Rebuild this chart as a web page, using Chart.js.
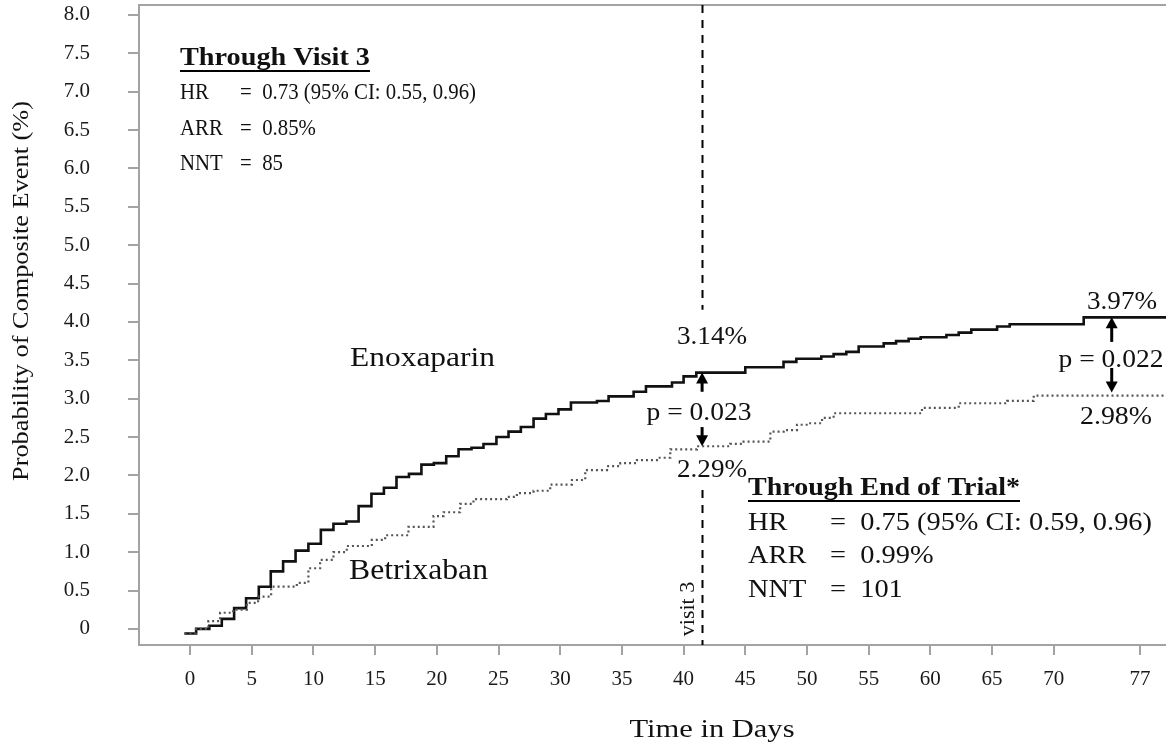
<!DOCTYPE html>
<html><head><meta charset="utf-8">
<script src="https://cdn.jsdelivr.net/npm/chart.js@4/dist/chart.umd.min.js"></script>
<style>html,body{margin:0;padding:0;background:#fff}#wrap{width:1166px;height:746px;position:relative}</style>
</head><body><div id="wrap"><canvas id="c"></canvas></div>
<script>
// ---- data ----
const enoxDays = [-0.46,0.49,1.56,2.57,3.57,4.54,5.57,6.54,7.54,8.55,9.59,10.6,11.62,12.67,13.66,14.7,15.71,16.73,17.74,18.75,19.76,20.76,21.76,22.81,23.78,24.83,25.81,26.81,27.84,28.84,29.86,30.87,32.98,33.92,35.95,36.95,39.06,40.0,41.03,45.0,48.1,49.14,51.16,52.16,53.19,54.19,56.22,57.22,58.24,59.22,61.3,62.3,63.32,65.41,66.43,72.43,79.5];
const enoxVals = [-0.06,0.0,0.04,0.13,0.27,0.40,0.55,0.75,0.88,1.02,1.11,1.29,1.37,1.40,1.60,1.76,1.84,1.98,2.02,2.14,2.16,2.25,2.34,2.36,2.41,2.50,2.57,2.63,2.74,2.80,2.86,2.95,2.97,3.03,3.09,3.16,3.21,3.29,3.34,3.41,3.48,3.52,3.55,3.58,3.61,3.68,3.72,3.75,3.78,3.80,3.83,3.86,3.90,3.94,3.97,4.06,4.06];
const betrDays = [-0.46,0.49,1.48,2.43,3.49,4.6,5.51,6.57,8.65,9.59,10.54,11.62,12.7,14.73,15.81,17.7,19.73,20.54,21.89,22.97,25.68,26.49,27.84,29.19,30.95,32.03,33.79,34.87,36.22,37.97,38.92,41.08,43.78,44.86,47.03,48.11,49.19,50.13,51.22,52.16,59.32,62.3,66.22,68.38,79.5];
const betrVals = [-0.06,0.0,0.10,0.21,0.25,0.34,0.42,0.55,0.60,0.79,0.90,1.00,1.08,1.16,1.22,1.33,1.47,1.52,1.63,1.69,1.72,1.77,1.80,1.88,1.94,2.07,2.12,2.16,2.20,2.23,2.34,2.38,2.41,2.44,2.57,2.59,2.66,2.68,2.75,2.81,2.88,2.94,2.97,3.04,3.04];
const xTickVals = [0,5,10,15,20,25,30,35,40,45,50,55,60,65,70,77];
const yTickVals = [0,0.5,1,1.5,2,2.5,3,3.5,4,4.5,5,5.5,6,6.5,7,7.5,8];
const visit3Day = 41.5;
const visit3Enox = 3.34, visit3Betr = 2.38;
const endDay = 74.7;
const endEnox = 4.06, endBetr = 3.08;

const FAM = '"Liberation Serif", "Times New Roman", serif';
const AX = '#a3a3a3';

function txt(ctx, t, x, y, o) {
  ctx.save();
  ctx.font = (o.bold ? 'bold ' : '') + o.size + 'px ' + FAM;
  ctx.fillStyle = o.color || '#111';
  ctx.textBaseline = 'middle';
  ctx.textAlign = 'left';
  const w = ctx.measureText(t).width;
  const sx = o.width ? o.width / w : (o.sx || 1);
  ctx.translate(x, y);
  if (o.rotate) ctx.rotate(o.rotate);
  ctx.scale(sx, 1);
  const ax = o.align === 'center' ? -w / 2 : (o.align === 'right' ? -w : 0);
  ctx.fillText(t, ax, 0);
  ctx.restore();
  return { w: w * sx, sx };
}

function arrow(ctx, x, yTip, yTail) {
  const dir = yTail > yTip ? 1 : -1;
  const hl = 11, hw = 12;
  ctx.save();
  ctx.strokeStyle = '#000'; ctx.fillStyle = '#000'; ctx.lineWidth = 3;
  ctx.beginPath(); ctx.moveTo(x, yTail); ctx.lineTo(x, yTip + dir * (hl - 1)); ctx.stroke();
  ctx.beginPath(); ctx.moveTo(x, yTip); ctx.lineTo(x - hw / 2, yTip + dir * hl); ctx.lineTo(x + hw / 2, yTip + dir * hl); ctx.closePath(); ctx.fill();
  ctx.restore();
}

const deco = {
  id: 'deco',
  beforeDatasetsDraw(chart) {
    const { ctx, chartArea: a, scales: { x, y } } = chart;
    ctx.save();
    ctx.strokeStyle = AX; ctx.lineWidth = 2;
    ctx.beginPath(); ctx.moveTo(a.left - 1, a.top); ctx.lineTo(a.right, a.top); ctx.stroke();
    const vx = Math.round(x.getPixelForValue(visit3Day)) + 0.5;
    ctx.strokeStyle = '#000'; ctx.lineWidth = 2; ctx.setLineDash([8, 7]);
    ctx.beginPath(); ctx.moveTo(vx, a.top); ctx.lineTo(vx, y.getPixelForValue(4.16)); ctx.stroke();
    ctx.beginPath(); ctx.moveTo(vx, y.getPixelForValue(1.81)); ctx.lineTo(vx, a.bottom); ctx.stroke();
    ctx.restore();
  },
  afterDraw(chart) {
    const { ctx, scales: { x, y } } = chart;
    const vx = x.getPixelForValue(visit3Day);
    const ex = x.getPixelForValue(endDay);
    arrow(ctx, vx, y.getPixelForValue(visit3Enox), y.getPixelForValue(3.09));
    arrow(ctx, vx, y.getPixelForValue(visit3Betr), y.getPixelForValue(2.63));
    arrow(ctx, ex, y.getPixelForValue(endEnox), y.getPixelForValue(3.74));
    arrow(ctx, ex, y.getPixelForValue(endBetr), y.getPixelForValue(3.40));

    txt(ctx, 'Time in Days', 712, 730, { size: 26, align: 'center', width: 165 });
    txt(ctx, 'Probability of Composite Event (%)', 22, 291, { size: 23, align: 'center', rotate: -Math.PI / 2, width: 380 });

    txt(ctx, 'Through Visit 3', 180, 59, { size: 25, bold: true, width: 190 });
    ctx.save(); ctx.strokeStyle = '#000'; ctx.lineWidth = 2;
    ctx.beginPath(); ctx.moveTo(180, 71); ctx.lineTo(370, 71); ctx.stroke(); ctx.restore();
    const r1 = txt(ctx, '=  0.73 (95% CI: 0.55, 0.96)', 240, 93, { size: 23, width: 236 });
    txt(ctx, 'HR', 180, 93, { size: 23, sx: r1.sx });
    txt(ctx, 'ARR', 180, 129, { size: 23, sx: r1.sx });
    txt(ctx, '=  0.85%', 240, 129, { size: 23, sx: r1.sx });
    txt(ctx, 'NNT', 180, 164, { size: 23, sx: r1.sx });
    txt(ctx, '=  85', 240, 164, { size: 23, sx: r1.sx });

    txt(ctx, 'Through End of Trial*', 748, 489, { size: 25, bold: true, width: 272 });
    ctx.save(); ctx.strokeStyle = '#000'; ctx.lineWidth = 2;
    ctx.beginPath(); ctx.moveTo(748, 501); ctx.lineTo(1020, 501); ctx.stroke(); ctx.restore();
    const r2 = txt(ctx, '=  0.75 (95% CI: 0.59, 0.96)', 830, 523, { size: 25, width: 322 });
    txt(ctx, 'HR', 748, 523, { size: 25, sx: r2.sx });
    txt(ctx, 'ARR', 748, 556, { size: 25, sx: r2.sx });
    txt(ctx, '=  0.99%', 830, 556, { size: 25, sx: r2.sx });
    txt(ctx, 'NNT', 748, 590, { size: 25, sx: r2.sx });
    txt(ctx, '=  101', 830, 590, { size: 25, sx: r2.sx });

    txt(ctx, 'Enoxaparin', 350, 359, { size: 28, width: 145 });
    txt(ctx, 'Betrixaban', 349, 571, { size: 30, width: 139 });

    txt(ctx, '3.14%', 712, 337, { size: 25, align: 'center', width: 70 });
    txt(ctx, 'p = 0.023', 699, 413, { size: 25, align: 'center', width: 105 });
    txt(ctx, '2.29%', 712, 470, { size: 25, align: 'center', width: 70 });
    txt(ctx, '3.97%', 1122, 302, { size: 25, align: 'center', width: 70 });
    txt(ctx, 'p = 0.022', 1111, 360, { size: 25, align: 'center', width: 105 });
    txt(ctx, '2.98%', 1116, 417, { size: 25, align: 'center', width: 72 });
    txt(ctx, 'visit 3', 688, 609, { size: 22, align: 'center', rotate: -Math.PI / 2 });
  }
};

const enoxData = enoxDays.map((d, i) => ({ x: d, y: enoxVals[i] }));
const betrData = betrDays.map((d, i) => ({ x: d, y: betrVals[i] }));

new Chart(document.getElementById('c'), {
  type: 'line',
  data: {
    datasets: [
      { label: 'Betrixaban', data: betrData, stepped: 'before', borderColor: '#555', borderWidth: 2.2, borderDash: [2, 3], pointRadius: 0, fill: false },
      { label: 'Enoxaparin', data: enoxData, stepped: 'before', borderColor: '#111', borderWidth: 2.6, pointRadius: 0, fill: false }
    ]
  },
  options: {
    responsive: true, maintainAspectRatio: false, animation: false,
    layout: { padding: { top: 5, right: 0, left: 0, bottom: 0 } },
    plugins: { legend: { display: false }, tooltip: { enabled: false }, title: { display: false } },
    scales: {
      x: {
        type: 'linear', min: -4.14, max: 79.1,
        afterBuildTicks: s => { s.ticks = xTickVals.map(v => ({ value: v })); },
        afterFit: s => { s.height = 101; s.paddingLeft = 0; s.paddingRight = 0; },
        ticks: { font: { family: FAM, size: 21 }, color: '#1a1a1a', padding: 12, maxRotation: 0, autoSkip: false, callback: v => String(v) },
        grid: { drawOnChartArea: false, drawTicks: true, tickLength: 10, color: AX, lineWidth: 2 },
        border: { display: true, color: AX, width: 2 }
      },
      y: {
        type: 'linear', min: -0.21, max: 8.13,
        afterBuildTicks: s => { s.ticks = yTickVals.map(v => ({ value: v })); },
        afterFit: s => { s.width = 139; s.paddingTop = 0; s.paddingBottom = 0; },
        ticks: { font: { family: FAM, size: 21 }, color: '#1a1a1a', padding: 38, autoSkip: false, callback: v => v === 0 ? '0' : v.toFixed(1) },
        grid: { drawOnChartArea: false, drawTicks: true, tickLength: 11, color: AX, lineWidth: 2 },
        border: { display: true, color: AX, width: 2 }
      }
    }
  },
  plugins: [deco]
});
</script>
</body></html>
